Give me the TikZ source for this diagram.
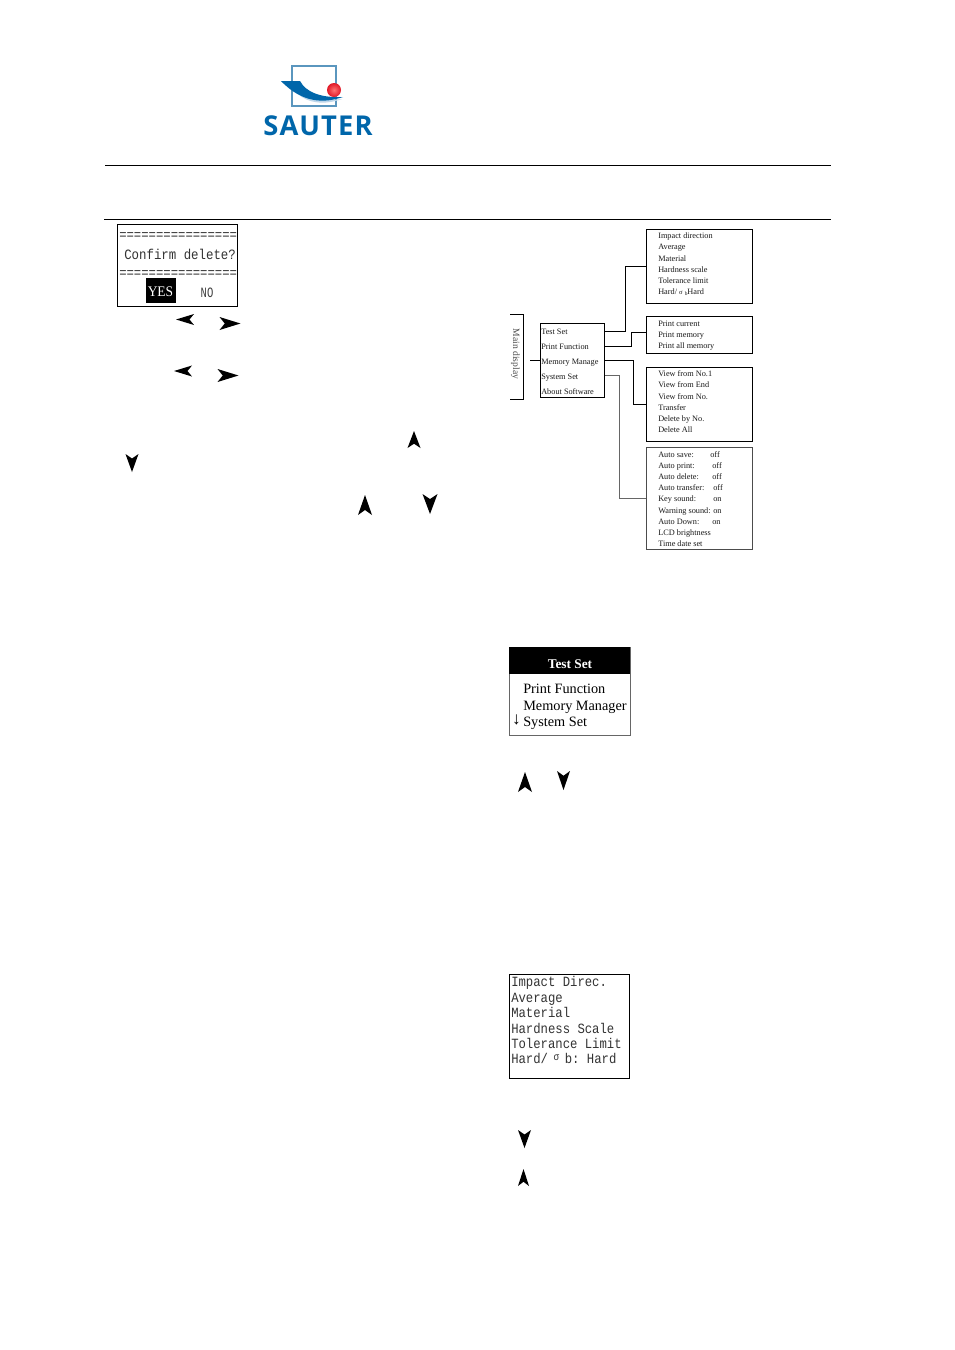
\documentclass[tikz,border=0pt]{standalone}
\usepackage{fontspec}
\usepackage{xcolor}
\setmainfont{Liberation Serif}
\setmonofont{Liberation Mono}
\newfontfamily\logofont[LetterSpace=4]{Open Sans}
\definecolor{sauterblue}{RGB}{0,102,170}
\definecolor{sauterframe}{RGB}{90,150,190}
\definecolor{sauterpale}{RGB}{190,215,235}
\definecolor{sauterred}{RGB}{225,25,40}
\tikzstyle{rule} = [line width=0.75pt, black]
\tikzstyle{item} = [anchor=west, inner sep=0pt, yshift=-0.9pt, text height=4.2pt, text depth=1.3pt, font=\fontsize{6.2pt}{6.2pt}\selectfont, text=black!90]
\tikzstyle{menubox} = [rectangle, draw=black, line width=0.75pt, inner sep=0pt, outer sep=0pt]
\tikzstyle{conn} = [line width=0.75pt, black]
\tikzstyle{screen} = [rectangle, draw=black, line width=0.75pt, inner sep=0pt, outer sep=0pt]
\tikzstyle{monoline} = [anchor=west, inner sep=0pt, yshift=-0.9pt, text height=6.2pt, text depth=1.8pt, yscale=1.15, font=\ttfamily\fontsize{9.2pt}{9.2pt}\selectfont, text=black!80]
\tikzstyle{bigline} = [anchor=west, inner sep=0pt, yshift=-1pt, text height=7.2pt, text depth=2.2pt, font=\fontsize{10.7pt}{10.7pt}\selectfont, text=black]
\tikzstyle{navtip} = [fill=black]
\newcommand{\navarrow}[5]{\fill [navtip, shift={(#1,#2)}, rotate=#5, xscale=#4, yscale=#3] (0,-0.5) -- (0.5,0.5) -- (0,0.25) -- (-0.5,0.5) -- cycle;}
\begin{document}
\begin{tikzpicture}[x=0.75pt, y=-0.75pt]
    \useasboundingbox [fill=white] (0,0) rectangle (955,1350);

    % logo
    \draw [sauterframe, line width=1pt] (292,66) rectangle (336,106);
    \fill [sauterpale] (297,93) .. controls (308,104) and (325,105) .. (342,99) .. controls (325,101) and (310,99) .. cycle;
    \fill [sauterblue] (281,81) -- (300,81) .. controls (306,92) and (320,98) .. (343,97) .. controls (325,103) and (303,104) .. cycle;
    \shade [inner color=red!55!white, outer color=sauterred] (334,90) circle (7);
    \node (logo_text) [inner sep=0pt, text=sauterblue, font=\logofont\bfseries\fontsize{20.5pt}{20.5pt}\selectfont] at (318,125.5) {SAUTER};

    % header rules
    \coordinate (rule_a_l) at (105,165);
    \coordinate (rule_a_r) at (831,165);
    \coordinate (rule_b_l) at (104,219);
    \coordinate (rule_b_r) at (831,219);
    \draw [rule] (rule_a_l) -- (rule_a_r);
    \draw [rule] (rule_b_l) -- (rule_b_r);

    % confirm screen
    \node (confirm) [screen, minimum width=90pt, minimum height=61.5pt] at (177,265) {};
    \node (eq_top) [monoline, yscale=1, font=\ttfamily\fontsize{9.2pt}{9.2pt}\selectfont] at (119,235) {================};
    \node (confirm_text) [monoline, font=\ttfamily\fontsize{9.3pt}{9.3pt}\selectfont] at (124,255) {Confirm delete?};
    \node (eq_bottom) [monoline, yscale=1, font=\ttfamily\fontsize{9.2pt}{9.2pt}\selectfont] at (119,273) {================};
    \node (yes_box) [fill=black, inner sep=0pt, minimum width=22.5pt, minimum height=18.75pt] at (161,290.5) {};
    \node (yes) [text=white, inner sep=0pt, font=\fontsize{11pt}{11pt}\selectfont, xscale=0.92] at (160.5,292) {YES};
    \node (no) [inner sep=0pt, text=black!75, yscale=1.15, xscale=0.85, font=\ttfamily\fontsize{9.3pt}{9.3pt}\selectfont] at (207,293) {NO};

    % key arrows
    \navarrow{185}{319.5}{18}{11}{90}
    \navarrow{230}{323.5}{21}{13}{-90}
    \navarrow{183}{371}{18}{11}{90}
    \navarrow{228}{375.5}{21}{13}{-90}
    \navarrow{414}{439.5}{17}{13}{0}
    \navarrow{132}{463}{18}{13}{180}
    \navarrow{365}{505}{20}{14}{0}
    \navarrow{430}{504}{20}{15}{180}
    \navarrow{525}{782}{20}{14}{0}
    \navarrow{563.5}{780.5}{19}{13}{180}
    \navarrow{524.5}{1139}{18}{13}{180}
    \navarrow{523.5}{1177.5}{17}{11}{0}

    % main menu
    \node (menu) [menubox, minimum width=48pt, minimum height=55.5pt] at (572,360) {};
    \node (test_set) [item] at (541,331) {Test Set};
    \node (print_fn) [item] at (541,346) {Print Function};
    \node (mem_mgr) [item] at (541,361) {Memory Manage};
    \node (sys_set) [item] at (541,376) {System Set};
    \node (about) [item] at (541,391) {About Software};
    \node (main_label) [item, anchor=center, yshift=0.9pt, rotate=-90, text=black!70, font=\fontsize{7.2pt}{7.2pt}\selectfont] at (515,354) {Main display};
    \coordinate (brk_a) at (510,314);
    \coordinate (brk_b) at (523,314);
    \coordinate (brk_c) at (523,399);
    \coordinate (brk_d) at (510,399);
    \coordinate (main_stub) at (530,360.5);
    \draw [conn] (brk_a) -- (brk_b) -- (brk_c) -- (brk_d);
    \draw [conn] (main_stub) -- (main_stub -| menu.west);

    % sub menus
    \node (box_test) [menubox, minimum width=79.5pt, minimum height=55.5pt] at (699,266) {};
    \node (t1) [item] at (658,235.5) {Impact direction};
    \node (t2) [item] at (658,246.5) {Average};
    \node (t3) [item] at (658,258) {Material};
    \node (t4) [item] at (658,269) {Hardness scale};
    \node (t5) [item] at (658,280) {Tolerance limit};
    \node (t6) [item] at (658,291) {Hard/ {\fontsize{5pt}{5pt}\selectfont σ} {\fontsize{4pt}{4pt}\selectfont\raisebox{-1pt}{b}}Hard};

    \node (box_print) [menubox, minimum width=79.5pt, minimum height=27.75pt] at (699,335) {};
    \node (p1) [item] at (658,323) {Print current};
    \node (p2) [item] at (658,334.5) {Print memory};
    \node (p3) [item] at (658,345.5) {Print all memory};

    \node (box_mem) [menubox, minimum width=79.5pt, minimum height=55.5pt] at (699,404) {};
    \node (m1) [item] at (658,373) {View from No.1};
    \node (m2) [item] at (658,384.5) {View from End};
    \node (m3) [item] at (658,396) {View from No.};
    \node (m4) [item] at (658,407) {Transfer};
    \node (m5) [item] at (658,418.5) {Delete by No.};
    \node (m6) [item] at (658,429.5) {Delete All};

    \node (box_sys) [menubox, draw=black!70, minimum width=79.5pt, minimum height=76.5pt] at (699,498.5) {};
    \node (s1) [item] at (658,454) {Auto save:};
    \node (s1v) [item] at (710,454) {off};
    \node (s2) [item] at (658,465) {Auto print:};
    \node (s2v) [item] at (712,465) {off};
    \node (s3) [item] at (658,476) {Auto delete:};
    \node (s3v) [item] at (712,476) {off};
    \node (s4) [item] at (658,487) {Auto transfer:};
    \node (s4v) [item] at (713,487) {off};
    \node (s5) [item] at (658,498) {Key sound:};
    \node (s5v) [item] at (713,498) {on};
    \node (s6) [item] at (658,510) {Warning sound:};
    \node (s6v) [item] at (713,510) {on};
    \node (s7) [item] at (658,521) {Auto Down:};
    \node (s7v) [item] at (712,521) {on};
    \node (s8) [item] at (658,532) {LCD brightness};
    \node (s9) [item] at (658,543) {Time date set};

    \coordinate (out_test) at (605,331);
    \coordinate (out_print) at (605,346);
    \coordinate (out_mem) at (605,360.5);
    \coordinate (out_sys) at (605,375);
    \draw [conn] (out_test) -- ++(20,0) |- (box_test.west);
    \draw [conn] (out_print) -- ++(26,0) |- ([yshift=2.25pt]box_print.west);
    \draw [conn] (out_mem) -- ++(28,0) |- (box_mem.west);
    \draw [conn, black!60] (out_sys) -- ++(14,0) |- (box_sys.west);

    % test set screen
    \node (test_screen) [screen, draw=black!60, minimum width=90.75pt, minimum height=66pt] at (569.5,691) {};
    \node (test_head) [fill=black, inner sep=0pt, minimum width=90.75pt, minimum height=20.25pt] at (569.5,660.5) {};
    \node (head_text) [inner sep=0pt, text=white, font=\bfseries\fontsize{10pt}{10pt}\selectfont] at (570,664) {Test Set};
    \node (l1) [bigline] at (523,689) {Print Function};
    \node (l2) [bigline] at (523,705.5) {Memory Manager};
    \node (l3) [bigline] at (523,722) {System Set};
    \node (scroll) [bigline, anchor=center, font=\bfseries\fontsize{13pt}{13pt}\selectfont] at (516.5,720) {↓};

    % impact screen
    \node (impact_screen) [screen, minimum width=90pt, minimum height=78pt] at (569,1026.5) {};
    \node (i1) [monoline] at (511,982) {Impact Direc.};
    \node (i2) [monoline] at (511,998) {Average};
    \node (i3) [monoline] at (511,1013) {Material};
    \node (i4) [monoline] at (511,1029) {Hardness Scale};
    \node (i5) [monoline] at (511,1044) {Tolerance Limit};
    \node (i6) [monoline] at (511,1059) {Hard/{\fontsize{7pt}{7pt}\selectfont\raisebox{2pt}{ σ }}b: Hard};
\end{tikzpicture}
\end{document}
